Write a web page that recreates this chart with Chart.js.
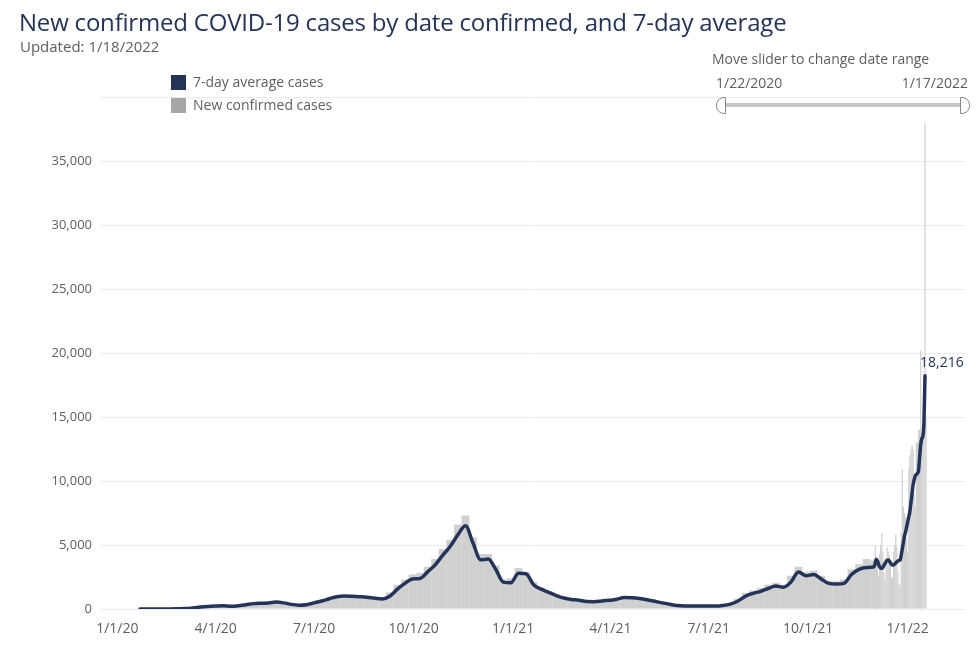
<!DOCTYPE html>
<html>
<head>
<meta charset="utf-8">
<script src="https://cdn.jsdelivr.net/npm/chart.js@4.4.0/dist/chart.umd.min.js"></script>
<style>
  body { margin: 0; background: #fff; font-family: "Open Sans", "Noto Sans", sans-serif; }
  #wrap { position: relative; width: 980px; height: 652px; overflow: hidden; }
  #chart { position: absolute; left: 0; top: 0; }
  .abs { position: absolute; white-space: nowrap; }
  .title { left: 19px; top: 5px; font-size: 24px; color: #243458; letter-spacing: -0.2px; }
  .updated { left: 20px; top: 36px; font-size: 15px; color: #605e5c; }
  .swatch { width: 15px; height: 15px; }
  .legtxt { font-size: 14px; color: #605e5c; }
  .slidecap { font-size: 14px; color: #605e5c; }
  .track { left: 722px; top: 103px; width: 240px; height: 4px; background: #c8c6c4; }
  .handle { top: 97px; width: 8px; height: 15px; background: #fff; border: 1px solid #8a8886; }
</style>
</head>
<body>
<div id="wrap">
  <canvas id="chart" width="980" height="652"></canvas>

  <div class="abs title">New confirmed COVID-19 cases by date confirmed, and 7-day average</div>
  <div class="abs updated">Updated: 1/18/2022</div>

  <div class="abs swatch" style="left:171px; top:75px; background:#243458;"></div>
  <div class="abs legtxt" style="left:193px; top:72px;">7-day average cases</div>
  <div class="abs swatch" style="left:171px; top:98px; background:#a6a6a6;"></div>
  <div class="abs legtxt" style="left:193px; top:95px;">New confirmed cases</div>

  <div class="abs slidecap" style="left:712px; top:49px;">Move slider to change date range</div>
  <div class="abs slidecap" style="left:716px; top:73px;">1/22/2020</div>
  <div class="abs slidecap" style="right:12px; top:73px;">1/17/2022</div>
  <div class="abs track"></div>
  <div class="abs handle" style="left:716px; border-radius:8px 0 0 8px;"></div>
  <div class="abs handle" style="left:960px; border-radius:0 8px 8px 0;"></div>
</div>

<script>
// weekly readings, one every 7 days starting on this date
const firstWeek = '2020-01-22';
const weeklyAvg = [
  0, 0, 0, 0, 0, 10, 30, 80, 150, 200,
  230, 250, 220, 260, 340, 420, 450, 470, 540, 480,
  360, 300, 340, 480, 620, 800, 960, 1010, 990, 960,
  920, 850, 790, 1000, 1550, 2000, 2350, 2380, 2900, 3450,
  4200, 4900, 5800, 6500, 5150, 3850, 3900, 3100, 2100, 2050,
  2800, 2750, 1900, 1550, 1300, 1050, 860, 750, 690, 580,
  570, 620, 680, 760, 900, 880, 820, 720, 600, 480,
  370, 280, 240, 230, 230, 230, 230, 270, 380, 620,
  1000, 1220, 1380, 1600, 1800, 1700, 2100, 2900, 2600, 2700,
  2350, 2000, 1950, 2000, 2700, 3100, 3250, 3300
];
const weeklyCases = [
  0, 0, 0, 0, 0, 15, 40, 100, 180, 230,
  260, 280, 250, 300, 380, 460, 500, 510, 580, 520,
  400, 340, 380, 540, 700, 880, 1050, 1100, 1080, 1060,
  1000, 950, 900, 1300, 1900, 2300, 2700, 2800, 3300, 3900,
  4700, 5400, 6600, 7300, 5600, 4300, 4300, 3400, 2300, 2400,
  3200, 2900, 2100, 1700, 1400, 1150, 950, 820, 750, 640,
  620, 680, 740, 820, 950, 930, 880, 770, 650, 520,
  400, 310, 260, 250, 250, 250, 260, 310, 450, 800,
  1250, 1450, 1650, 1900, 2050, 1900, 2600, 3300, 2900, 3000,
  2600, 2200, 2150, 2300, 3100, 3500, 3900, 3800
];

// daily readings for the final stretch
const dailyStart = '2021-12-02';
const dailyAvg = [
  3600, 3880, 3750, 3500, 3300, 3200, 3180, 3250, 3400, 3550,
  3700, 3800, 3830, 3750, 3620, 3500, 3440, 3450, 3520, 3600,
  3680, 3750, 3800, 3830, 4200, 4700, 5200, 5700, 6000, 6400,
  6800, 7200, 7600, 8300, 9000, 9700, 10100, 10400, 10500, 10600,
  10800, 11800, 12800, 13300, 13500, 14500, 18216
];
const dailyCases = [
  5000, 4000, 3000, 2600, 4300, 5000, 5900, 4500, 2800, 2200,
  4000, 4800, 4500, 4200, 3800, 2500, 2400, 4500, 5000, 5800,
  4800, 3000, 2000, 1800, 6000, 10900, 8000, 7500, 7200, 5500,
  4500, 11000, 12000, 12500, 12800, 12500, 9000, 8000, 13000, 13000,
  14000, 14000, 20200, 13000, 14000, 14500, 38000, 15000
];

const tickDates = ['2020-01-01', '2020-04-01', '2020-07-01', '2020-10-01', '2021-01-01',
                   '2021-04-01', '2021-07-01', '2021-10-01', '2022-01-01'];
const tickLabels = ['1/1/20', '4/1/20', '7/1/20', '10/1/20', '1/1/21', '4/1/21', '7/1/21', '10/1/21', '1/1/22'];
const yTicks = [0, 5000, 10000, 15000, 20000, 25000, 30000, 35000, 40000];

// days since 1/1/2020
const dayIndex = (s) => {
    const [y, m, d] = s.split('-').map(Number);
    return Math.round((Date.UTC(y, m - 1, d) - Date.UTC(2020, 0, 1)) / 86400000);
};

const week0 = dayIndex(firstWeek);
const day0 = dayIndex(dailyStart);
const tickDays = tickDates.map(dayIndex);

const avgPoints = weeklyAvg.map((v, i) => ({ x: week0 + i * 7, y: v }))
    .concat(dailyAvg.map((v, i) => ({ x: day0 + i, y: v })));
const weekBars = weeklyCases.map((v, i) => ({ x: week0 + i * 7, y: v }));
const dayBars = dailyCases.map((v, i) => ({ x: day0 + i, y: v }));

const NAVY = '#243458';
const GRAY = '#d0d0d0';
const FONT = '"Open Sans", "Noto Sans", sans-serif';

// value label next to the last point of the average line
const lastValueLabel = {
    id: 'lastValueLabel',
    afterDatasetsDraw(chart) {
        const meta = chart.getDatasetMeta(0);
        const pt = meta.data[meta.data.length - 1];
        const ctx = chart.ctx;
        ctx.save();
        ctx.font = '14px ' + FONT;
        ctx.fillStyle = NAVY;
        ctx.textAlign = 'left';
        ctx.textBaseline = 'middle';
        ctx.fillText(dailyAvg[dailyAvg.length - 1].toLocaleString('en-US'), pt.x - 5, pt.y - 13);
        ctx.restore();
    }
};

new Chart(document.getElementById('chart').getContext('2d'), {
    type: 'bar',
    data: {
        datasets: [
            {
                type: 'line',
                label: '7-day average cases',
                data: avgPoints,
                borderColor: NAVY,
                borderWidth: 3.5,
                pointRadius: 0,
                cubicInterpolationMode: 'monotone',
                borderJoinStyle: 'round',
                borderCapStyle: 'round',
                order: 0
            },
            {
                label: 'New confirmed cases',
                data: weekBars,
                backgroundColor: GRAY,
                borderWidth: 0,
                grouped: false,
                categoryPercentage: 1,
                barPercentage: 7.2,
                order: 1
            },
            {
                label: 'New confirmed cases',
                data: dayBars,
                backgroundColor: GRAY,
                borderWidth: 0,
                grouped: false,
                categoryPercentage: 1,
                barPercentage: 1.1,
                order: 2
            }
        ]
    },
    options: {
        responsive: false,
        animation: false,
        events: [],
        layout: { padding: { top: 97, right: 15, left: 0, bottom: 0 } },
        plugins: { legend: { display: false }, tooltip: { enabled: false } },
        scales: {
            x: {
                type: 'linear',
                min: -16,
                max: 784,
                offset: false,
                grid: { display: false },
                border: { display: false },
                afterBuildTicks: (axis) => { axis.ticks = tickDays.map(v => ({ value: v })); },
                afterFit: (s) => { s.height = 43; },
                ticks: {
                    autoSkip: false,
                    maxRotation: 0,
                    padding: 4,
                    color: '#605e5c',
                    font: { family: FONT, size: 14 },
                    callback: (v) => tickLabels[tickDays.indexOf(v)]
                }
            },
            y: {
                min: 0,
                max: 40000,
                grid: { color: '#ececec', lineWidth: 1, drawTicks: false },
                border: { display: false },
                afterBuildTicks: (axis) => { axis.ticks = yTicks.map(v => ({ value: v })); },
                afterFit: (s) => { s.width = 100; },
                ticks: {
                    padding: 8,
                    color: '#605e5c',
                    font: { family: FONT, size: 13 },
                    callback: (v) => v === 40000 ? '' : v.toLocaleString('en-US')
                }
            }
        }
    },
    plugins: [lastValueLabel]
});
</script>
</body>
</html>
